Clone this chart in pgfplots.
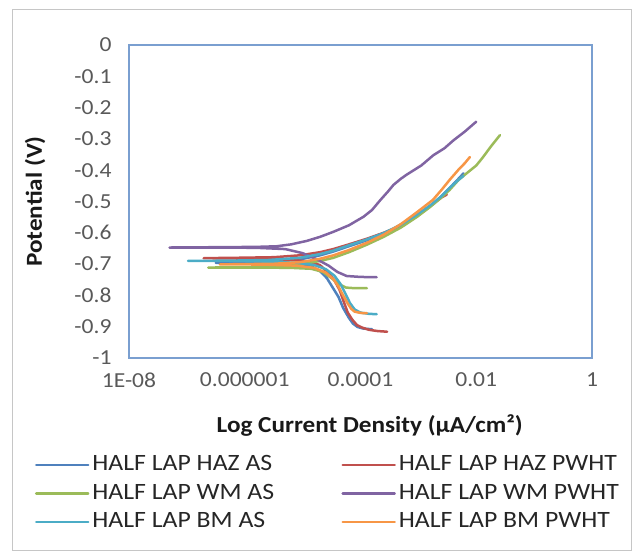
\documentclass[border=0pt]{standalone}
\usepackage{fontspec}
\setmainfont{Carlito}[FakeStretch=1.1]
\usepackage{pgfplots}
\pgfplotsset{compat=1.18}
\definecolor{sBlue}{HTML}{4F81BD}
\definecolor{sRed}{HTML}{C0504D}
\definecolor{sGreen}{HTML}{9BBB59}
\definecolor{sPurple}{HTML}{8064A2}
\definecolor{sCyan}{HTML}{4BACC6}
\definecolor{sOrange}{HTML}{F79646}
\definecolor{axisblue}{HTML}{7A9FD0}
\definecolor{tickgray}{HTML}{595959}
\begin{document}
\begin{tikzpicture}
\useasboundingbox (-129bp,-200bp) rectangle (508bp,358bp);
\draw[gray!45, line width=0.8bp] (-117bp,-192bp) rectangle (502bp,349bp);
\begin{axis}[
  at={(0,0)}, anchor=south west,
  scale only axis, width=463bp, height=313bp,
  xmode=log, xmin=1e-8, xmax=1, ymin=-1, ymax=0,
  xtick={1e-8,1e-6,1e-4,1e-2,1},
  xticklabels={1E-08,0.000001,0.0001,0.01,1},
  ytick={-1,-0.9,-0.8,-0.7,-0.6,-0.5,-0.4,-0.3,-0.2,-0.1,0},
  yticklabels={-1,-0.9,-0.8,-0.7,-0.6,-0.5,-0.4,-0.3,-0.2,-0.1,0},
  minor tick num=0, major tick length=0pt, minor tick length=0pt,
  axis line style={draw=axisblue, line width=1.2bp},
  tick label style={font=\fontsize{21.5}{24}\selectfont, text=tickgray},
  xticklabel style={yshift=-11bp},
  yticklabel style={xshift=-14bp},
  xlabel={\textbf{Log Current Density (µA/cm²)}},
  ylabel={\textbf{Potential (V)}},
  label style={font=\fontsize{23}{26}\selectfont, text=black!90},
  xlabel style={at={(axis description cs:0.52,-0.216)}, anchor=center},
  ylabel style={at={(axis description cs:-0.203,0.5)}, anchor=center},
  legend columns=2,
  legend cell align=left,
  legend style={draw=none, fill=none, at={(axis description cs:-0.21,-0.302)}, anchor=north west,
     font=\fontsize{23.5}{26}\selectfont, text=black!85,
     nodes={inner ysep=0pt, inner xsep=3bp, text height=16bp, text depth=5bp},
     row sep=7.5bp, column sep=0bp},
  legend image code/.code={\draw[#1, line width=2.5bp] (0bp,0bp) -- (52bp,0bp);},
  every axis plot/.append style={line width=2.5bp, line join=round, line cap=round},
]
% HALF LAP HAZ AS
\addplot[sBlue] coordinates {
(1.585e-4,-0.908) (1.122e-4,-0.906) (8.913e-5,-0.901) (7.413e-5,-0.890) (6.310e-5,-0.872)
(5.012e-5,-0.840) (4.169e-5,-0.805) (3.311e-5,-0.775) (2.630e-5,-0.745) (1.995e-5,-0.722)
(1.413e-5,-0.707) (7.943e-6,-0.699) (2.512e-6,-0.697) (6.310e-7,-0.696) (3.162e-7,-0.696)
(1e-6,-0.694) (3.162e-6,-0.692) (8.913e-6,-0.685) (1.995e-5,-0.672) (3.388e-5,-0.660)
(6.310e-5,-0.643) (1.288e-4,-0.624) (2.239e-4,-0.605) (3.715e-4,-0.588) (6.310e-4,-0.562)
(9.333e-4,-0.544) (1.318e-3,-0.525) (1.820e-3,-0.507) (2.512e-3,-0.483) (3.548e-3,-0.455)
(4.786e-3,-0.430) (6.026e-3,-0.410)
};
\addlegendentry{\makebox[246bp][l]{HALF LAP HAZ AS}}
% HALF LAP HAZ PWHT
\addplot[sRed] coordinates {
(2.884e-4,-0.916) (1.995e-4,-0.914) (1.413e-4,-0.910) (1.072e-4,-0.903) (8.710e-5,-0.895)
(7.244e-5,-0.878) (6.026e-5,-0.855) (5.129e-5,-0.820) (4.365e-5,-0.783) (3.548e-5,-0.752)
(2.692e-5,-0.726) (1.995e-5,-0.703) (1.259e-5,-0.692) (6.310e-6,-0.686) (1.995e-6,-0.683)
(6.310e-7,-0.682) (1.950e-7,-0.681) (6.310e-7,-0.680) (3.162e-6,-0.678) (8.913e-6,-0.672)
(1.995e-5,-0.662) (3.388e-5,-0.652) (6.310e-5,-0.637) (1.288e-4,-0.619) (2.512e-4,-0.600)
(5.012e-4,-0.578) (9.333e-4,-0.548) (1.585e-3,-0.515) (2.512e-3,-0.487) (3.090e-3,-0.478)
};
\addlegendentry{HALF LAP HAZ PWHT}
% HALF LAP WM AS
\addplot[sGreen] coordinates {
(1.288e-4,-0.777) (7.943e-5,-0.777) (5.623e-5,-0.775) (4.365e-5,-0.765) (3.162e-5,-0.745)
(2.239e-5,-0.725) (1.413e-5,-0.715) (6.310e-6,-0.712) (1.585e-6,-0.711) (2.344e-7,-0.711)
(1.585e-6,-0.710) (5.012e-6,-0.707) (1e-5,-0.700) (1.995e-5,-0.690) (3.388e-5,-0.680)
(6.310e-5,-0.662) (1.288e-4,-0.638) (2.512e-4,-0.613) (5.012e-4,-0.583) (9.333e-4,-0.550)
(1.585e-3,-0.518) (2.512e-3,-0.487) (3.467e-3,-0.463) (5.012e-3,-0.430) (6.918e-3,-0.409)
(1e-2,-0.385) (1.288e-2,-0.360) (1.778e-2,-0.325) (2.570e-2,-0.288)
};
\addlegendentry{\makebox[246bp][l]{HALF LAP WM AS}}
% HALF LAP WM PWHT
\addplot[sPurple] coordinates {
(1.905e-4,-0.742) (1e-4,-0.741) (5.754e-5,-0.738) (3.981e-5,-0.725) (2.818e-5,-0.705)
(1.778e-5,-0.685) (1e-5,-0.665) (5.012e-6,-0.652) (1.585e-6,-0.648) (3.162e-7,-0.647)
(5.012e-8,-0.647) (3.162e-7,-0.646) (1.585e-6,-0.645) (3.548e-6,-0.643) (6.310e-6,-0.637)
(1.175e-5,-0.626) (1.995e-5,-0.613) (3.388e-5,-0.597) (6.310e-5,-0.576) (1.122e-4,-0.549)
(1.585e-4,-0.527) (2.188e-4,-0.496) (3.020e-4,-0.467) (3.715e-4,-0.447) (5.012e-4,-0.427)
(6.310e-4,-0.414) (1.122e-3,-0.385) (1.820e-3,-0.352) (2.818e-3,-0.330) (4.074e-3,-0.304)
(6.310e-3,-0.277) (1e-2,-0.245)
};
\addlegendentry{HALF LAP WM PWHT}
% HALF LAP BM AS
\addplot[sCyan] coordinates {
(1.905e-4,-0.860) (1.413e-4,-0.859) (1e-4,-0.855) (7.943e-5,-0.845) (6.607e-5,-0.825)
(5.495e-5,-0.795) (4.571e-5,-0.765) (3.548e-5,-0.737) (2.512e-5,-0.716) (1.585e-5,-0.703)
(7.943e-6,-0.696) (2.512e-6,-0.692) (5.012e-7,-0.690) (1.047e-7,-0.690) (5.012e-7,-0.689)
(2.512e-6,-0.687) (8.913e-6,-0.680) (1.995e-5,-0.668) (3.388e-5,-0.657) (6.310e-5,-0.640)
(1.288e-4,-0.621) (2.512e-4,-0.601) (5.012e-4,-0.574) (9.333e-4,-0.543) (1.585e-3,-0.513)
(2.512e-3,-0.483) (3.548e-3,-0.455) (4.786e-3,-0.433) (6.026e-3,-0.418)
};
\addlegendentry{\makebox[246bp][l]{HALF LAP BM AS}}
% HALF LAP BM PWHT
\addplot[sOrange] coordinates {
(1.288e-4,-0.857) (1e-4,-0.856) (7.943e-5,-0.852) (6.918e-5,-0.843) (6.026e-5,-0.826)
(5.012e-5,-0.800) (4.169e-5,-0.772) (3.388e-5,-0.748) (2.512e-5,-0.727) (1.585e-5,-0.712)
(7.943e-6,-0.705) (2.512e-6,-0.702) (1e-6,-0.701) (3.715e-7,-0.701) (1e-6,-0.700)
(3.162e-6,-0.699) (8.913e-6,-0.694) (1.995e-5,-0.683) (3.388e-5,-0.672) (6.310e-5,-0.655)
(1.288e-4,-0.632) (2.512e-4,-0.606) (5.012e-4,-0.572) (9.333e-4,-0.535) (1.778e-3,-0.495)
(2.512e-3,-0.463) (3.467e-3,-0.431) (5.012e-3,-0.397) (6.310e-3,-0.378) (7.762e-3,-0.358)
};
\addlegendentry{HALF LAP BM PWHT}
\end{axis}
\end{tikzpicture}
\end{document}
